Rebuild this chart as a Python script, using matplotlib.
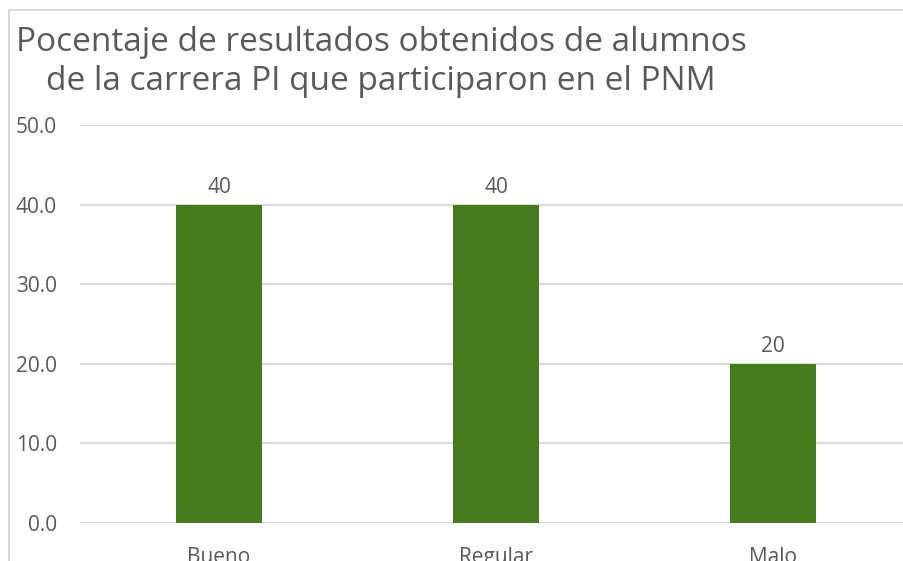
import matplotlib
matplotlib.use('Agg')
import matplotlib.pyplot as plt
from matplotlib.patches import Rectangle

categorias = ['Bueno', 'Regular', 'Malo']
valores = [40, 40, 20]
ticks_y = [0, 10, 20, 30, 40, 50]

gris = '#595959'
verde = '#467b1e'
plt.rcParams['font.family'] = ['Open Sans', 'DejaVu Sans']

fig = plt.figure(figsize=(9.04, 5.61), dpi=100)
W, H = 904, 561

# borde del grafico (recortado a la derecha y abajo)
fig.patches.append(Rectangle((9 / W, -0.1), 1.2, (H - 10) / H + 0.1,
                             transform=fig.transFigure, fill=False,
                             edgecolor='#d9d9d9', linewidth=1.5))

ax = fig.add_axes([80.5 / W, 38 / H, 831 / W, 398 / H])
x = range(len(categorias))
barras = ax.bar(x, valores, width=0.314, color=verde, zorder=3)
ax.set_xlim(-0.5, 2.5)
ax.set_ylim(0, 50)
ax.set_yticks(ticks_y)
ax.set_yticklabels([f'{v:.1f}' for v in ticks_y])
ax.set_xticks(list(x))
ax.set_xticklabels(categorias)
ax.grid(axis='y', color='#d9d9d9', linewidth=1.5, zorder=0)
for s in ax.spines.values():
    s.set_visible(False)
ax.tick_params(length=0, labelsize=15, colors=gris)
ax.tick_params(axis='y', pad=17)
ax.tick_params(axis='x', pad=17)
for b, v in zip(barras, valores):
    ax.annotate(f'{v}', (b.get_x() + b.get_width() / 2, v), xytext=(0, 5),
                textcoords='offset points', ha='center', va='bottom',
                fontsize=15, color=gris)

fig.text(381 / W, 1 - 62 / H,
         'Pocentaje de resultados obtenidos de alumnos\nde la carrera PI que participaron en el PNM',
         ha='center', va='center', fontsize=24, color=gris, linespacing=1.25)

fig.savefig('out.png', dpi=100)
